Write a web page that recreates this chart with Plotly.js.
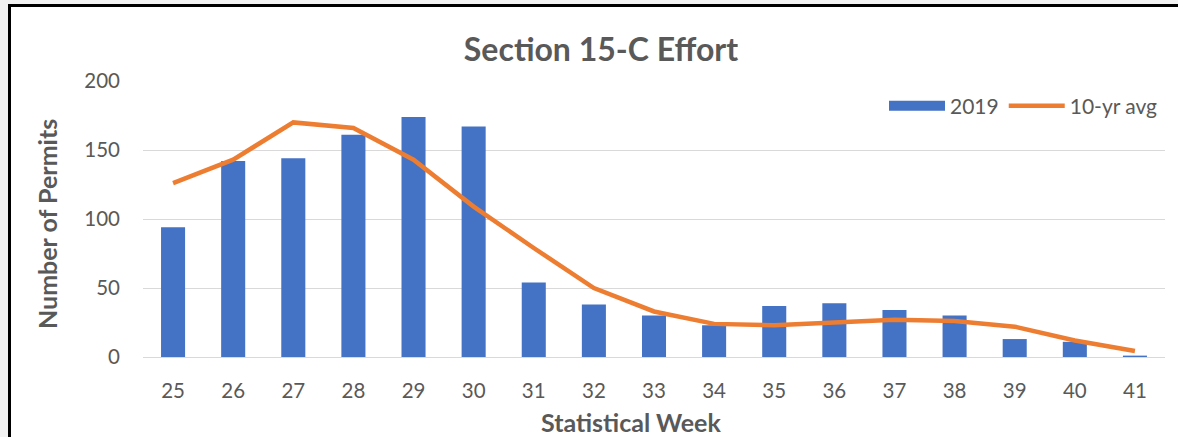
<!DOCTYPE html>
<html>
<head>
<meta charset="utf-8">
<script src="https://cdn.plot.ly/plotly-3.0.1.min.js"></script>
<style>
  html, body { margin: 0; padding: 0; background: #f2f2f2; }
  #chart { width: 1178px; height: 437px; }
</style>
</head>
<body>
<div id="chart"></div>
<script>
// Data
const weeks = ['25','26','27','28','29','30','31','32','33','34','35','36','37','38','39','40','41'];
const permits2019 = [94, 142, 144, 161, 174, 167, 54, 38, 30, 23, 37, 39, 34, 30, 13, 11, 1];
const tenYrAvg = [126, 143, 170, 166, 143, 109, 79, 50, 33, 24, 23, 25, 27, 26, 22, 12, 4.4];
const seriesNames = ['2019', '10-yr avg'];
const chartTitle = 'Section 15-C Effort';
const xTitle = 'Statistical Week';
const yTitle = 'Number of Permits';

const W = 1178, H = 437;
const mL = 143, mR = W - 1165, mT = 81, mB = H - 357;
const pw = W - mL - mR, ph = H - mT - mB;
const px = v => (v - mL) / pw;
const py = v => (H - mB - v) / ph;

const textColor = '#595959';
const font = 'Lato, "Open Sans", "Liberation Sans", sans-serif';

const traces = [
  {
    type: 'bar',
    name: seriesNames[0],
    legendgroup: 'g2019',
    showlegend: false,
    x: weeks,
    y: permits2019,
    marker: { color: '#4472C4' }
  },
  {
    // legend key only (wide box like the reference)
    type: 'scatter',
    mode: 'lines',
    name: seriesNames[0],
    legendgroup: 'g2019',
    x: [null],
    y: [null],
    line: { color: '#4472C4', width: 13 },
    hoverinfo: 'skip'
  },
  {
    type: 'scatter',
    mode: 'lines',
    name: seriesNames[1],
    x: weeks,
    y: tenYrAvg,
    line: { color: '#ED7D31', width: 4.5 }
  }
];

const layout = {
  width: W, height: H,
  margin: { l: mL, r: mR, t: mT, b: mB, pad: 0 },
  paper_bgcolor: '#f2f2f2',
  plot_bgcolor: 'rgba(0,0,0,0)',
  font: { family: font, color: textColor, size: 20 },
  bargap: 0.6,
  showlegend: true,
  title: {
    text: chartTitle,
    font: { family: font, size: 32, color: textColor, weight: 'bold' },
    x: 601 / W, xref: 'container', xanchor: 'center',
    y: 1 - 50 / H, yref: 'container', yanchor: 'middle'
  },
  xaxis: {
    type: 'category',
    showgrid: false,
    zeroline: false,
    showline: true,
    linecolor: '#d9d9d9',
    linewidth: 1,
    ticks: '',
    ticklabelstandoff: 15,
    tickfont: { size: 20.5, color: textColor, family: font },
    automargin: false,
    fixedrange: true
  },
  yaxis: {
    range: [0, 200],
    dtick: 50,
    showgrid: true,
    gridcolor: '#d9d9d9',
    gridwidth: 1,
    zeroline: true,
    zerolinecolor: '#d9d9d9',
    zerolinewidth: 1,
    showline: false,
    ticks: '',
    ticklabelstandoff: 22,
    tickfont: { size: 20.5, color: textColor, family: font },
    automargin: false,
    fixedrange: true
  },
  annotations: [
    {
      text: xTitle, xref: 'paper', yref: 'paper',
      x: px(631), y: py(422), xanchor: 'center', yanchor: 'middle',
      showarrow: false,
      font: { size: 25, color: textColor, family: font, weight: 'bold' }
    },
    {
      text: yTitle, xref: 'paper', yref: 'paper',
      x: px(47), y: py(224), xanchor: 'center', yanchor: 'middle',
      textangle: -90, showarrow: false,
      font: { size: 25, color: textColor, family: font, weight: 'bold' }
    }
  ],
  legend: {
    orientation: 'h',
    x: px(1163), xanchor: 'right',
    y: py(106), yanchor: 'middle',
    bgcolor: 'rgba(0,0,0,0)',
    font: { size: 21, color: textColor, family: font },
    itemwidth: 56,
    traceorder: 'normal'
  },
  shapes: [
    {
      type: 'rect', xref: 'paper', yref: 'paper', layer: 'below',
      x0: px(9.5), x1: px(1200), y0: py(460), y1: py(5.5),
      fillcolor: '#ffffff',
      line: { color: '#000000', width: 3 }
    }
  ]
};

Plotly.newPlot('chart', traces, layout, { displayModeBar: false, staticPlot: true });
</script>
</body>
</html>
